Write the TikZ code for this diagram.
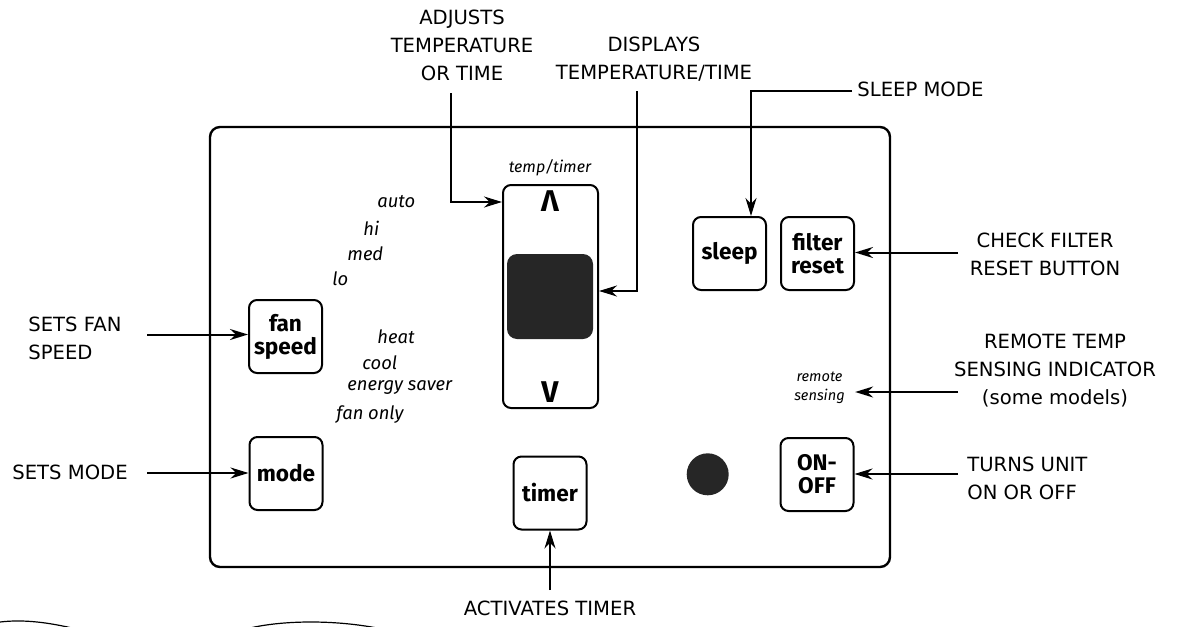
\documentclass[tikz,border=0pt]{standalone}
\usepackage{fontspec}
\setmainfont{DejaVu Sans}
\newfontfamily\keyfont{Fira Sans}
\usetikzlibrary{arrows.meta,positioning}

\begin{document}
\begin{tikzpicture}[x=0.5pt,y=-0.5pt,>={Stealth[length=9pt,width=5.5pt]},
callout/.style={font=\fontsize{9.8}{14}\selectfont,align=center,inner sep=0pt},
keybox/.style={draw,line width=1pt,rounded corners=4pt,minimum width=36.5pt,minimum height=36.5pt,inner sep=0pt,align=center,font=\keyfont\bfseries\fontsize{11.3}{11.5}\selectfont},
setting/.style={font=\keyfont\itshape\fontsize{9.2}{11}\selectfont,inner sep=0pt,anchor=west},
lead/.style={->,line width=1pt}]
\useasboundingbox (0,0) rectangle (1179,627);
% panel outline
\draw[line width=1.2pt,rounded corners=5pt] (210,127) rectangle (890,567);
% keys
\node[keybox] (fanspeed) at (285.5,336.5) {fan\\speed};
\node[keybox] (mode) at (286,473.5) {mode};
\node[keybox] (timer) at (550,493) {timer};
\node[keybox] (sleep) at (729.5,253.5) {sleep};
\node[keybox] (filterreset) at (817.5,253.5) {filter\\reset};
\node[keybox] (onoff) at (817,474.5) {ON-\\OFF};
% temp/timer rocker
\node[draw,line width=1pt,rounded corners=4pt,minimum width=47.5pt,minimum height=111.5pt] (temptimer) at (550.5,296.5) {};
\node[fill=black!85,rounded corners=5pt,minimum width=43pt,minimum height=42.5pt,inner sep=0pt] (display) at (550,296.5) {};
\node[font=\keyfont\bfseries\fontsize{15}{15}\selectfont,inner sep=0pt] (up) at (550,201) {Λ};
\node[font=\keyfont\bfseries\fontsize{15}{15}\selectfont,inner sep=0pt] (down) at (550,392) {V};
\node[font=\keyfont\itshape\fontsize{8}{9}\selectfont,inner sep=0pt] (tempcap) at (550,168) {temp/timer};
% indicator
\node[circle,fill=black!85,minimum size=21pt,inner sep=0pt] (indicator) at (707.7,474.3) {};
\node[font=\keyfont\itshape\fontsize{7.3}{9.5}\selectfont,inner sep=0pt,align=center] (remotesensing) at (819.5,387.5) {remote\\sensing};
% fan and mode settings
\node[setting] (auto) at (377,202) {auto};
\node[setting] (hi) at (363,228) {hi};
\node[setting] (med) at (347,254) {med};
\node[setting] (lo) at (332,279) {lo};
\node[setting] (heat) at (377,337) {heat};
\node[setting] (cool) at (362,363) {cool};
\node[setting] (saver) at (347,388) {energy saver};
\node[setting] (fanonly) at (336,415) {fan only};
% callouts
\node[callout,anchor=west,align=left] (lblfan) at (28,338) {SETS FAN\\SPEED};
\node[callout,anchor=west] (lblmode) at (12,472) {SETS MODE};
\node[callout] (lbladjust) at (462,45) {ADJUSTS\\TEMPERATURE\\OR TIME};
\node[callout] (lbldisplay) at (654,59) {DISPLAYS\\TEMPERATURE/TIME};
\node[callout,anchor=west] (lblsleep) at (857,89) {SLEEP MODE};
\node[callout] (lblfilter) at (1045,254) {CHECK FILTER\\RESET BUTTON};
\node[callout] (lblremote) at (1055,371) {REMOTE TEMP\\SENSING INDICATOR\\(some models)};
\node[callout,anchor=west,align=left] (lblonoff) at (967,478) {TURNS UNIT\\ON OR OFF};
\node[callout] (lbltimer) at (550,608) {ACTIVATES TIMER};
% leader start points
\coordinate (fanstart) at (147,334.5);
\coordinate (modestart) at (147,473);
\coordinate (adjstart) at (451,93);
\coordinate (dispstart) at (637,91);
\coordinate (sleepstart) at (852,91);
\coordinate (filterstart) at (958,252.5);
\coordinate (remotestart) at (958,392);
\coordinate (onstart) at (958,474);
\coordinate (timerstart) at (550,590);
% leaders
\draw[lead] (fanstart) -- (fanstart -| fanspeed.west);
\draw[lead] (modestart) -- (modestart -| mode.west);
\draw[lead] (adjstart) |- (temptimer.west |- 0,202);
\draw[lead] (dispstart) |- (temptimer.east |- 0,291);
\draw[lead] (sleepstart) -| ([xshift=-8pt]sleep.north east);
\draw[lead] (filterstart) -- (filterstart -| filterreset.east);
\draw[lead] (remotestart) -- ([xshift=5pt]remotesensing.east |- remotestart);
\draw[lead] (onstart) -- (onstart -| onoff.east);
\draw[lead] (timerstart) -- (timer.south);
% cut edge at the bottom
\draw[line width=0.6pt] (0,622) .. controls (25,619) and (50,623) .. (72,628);
\draw[line width=0.6pt] (250,628) .. controls (285,620) and (335,620) .. (377,628);
\end{tikzpicture}
\end{document}
